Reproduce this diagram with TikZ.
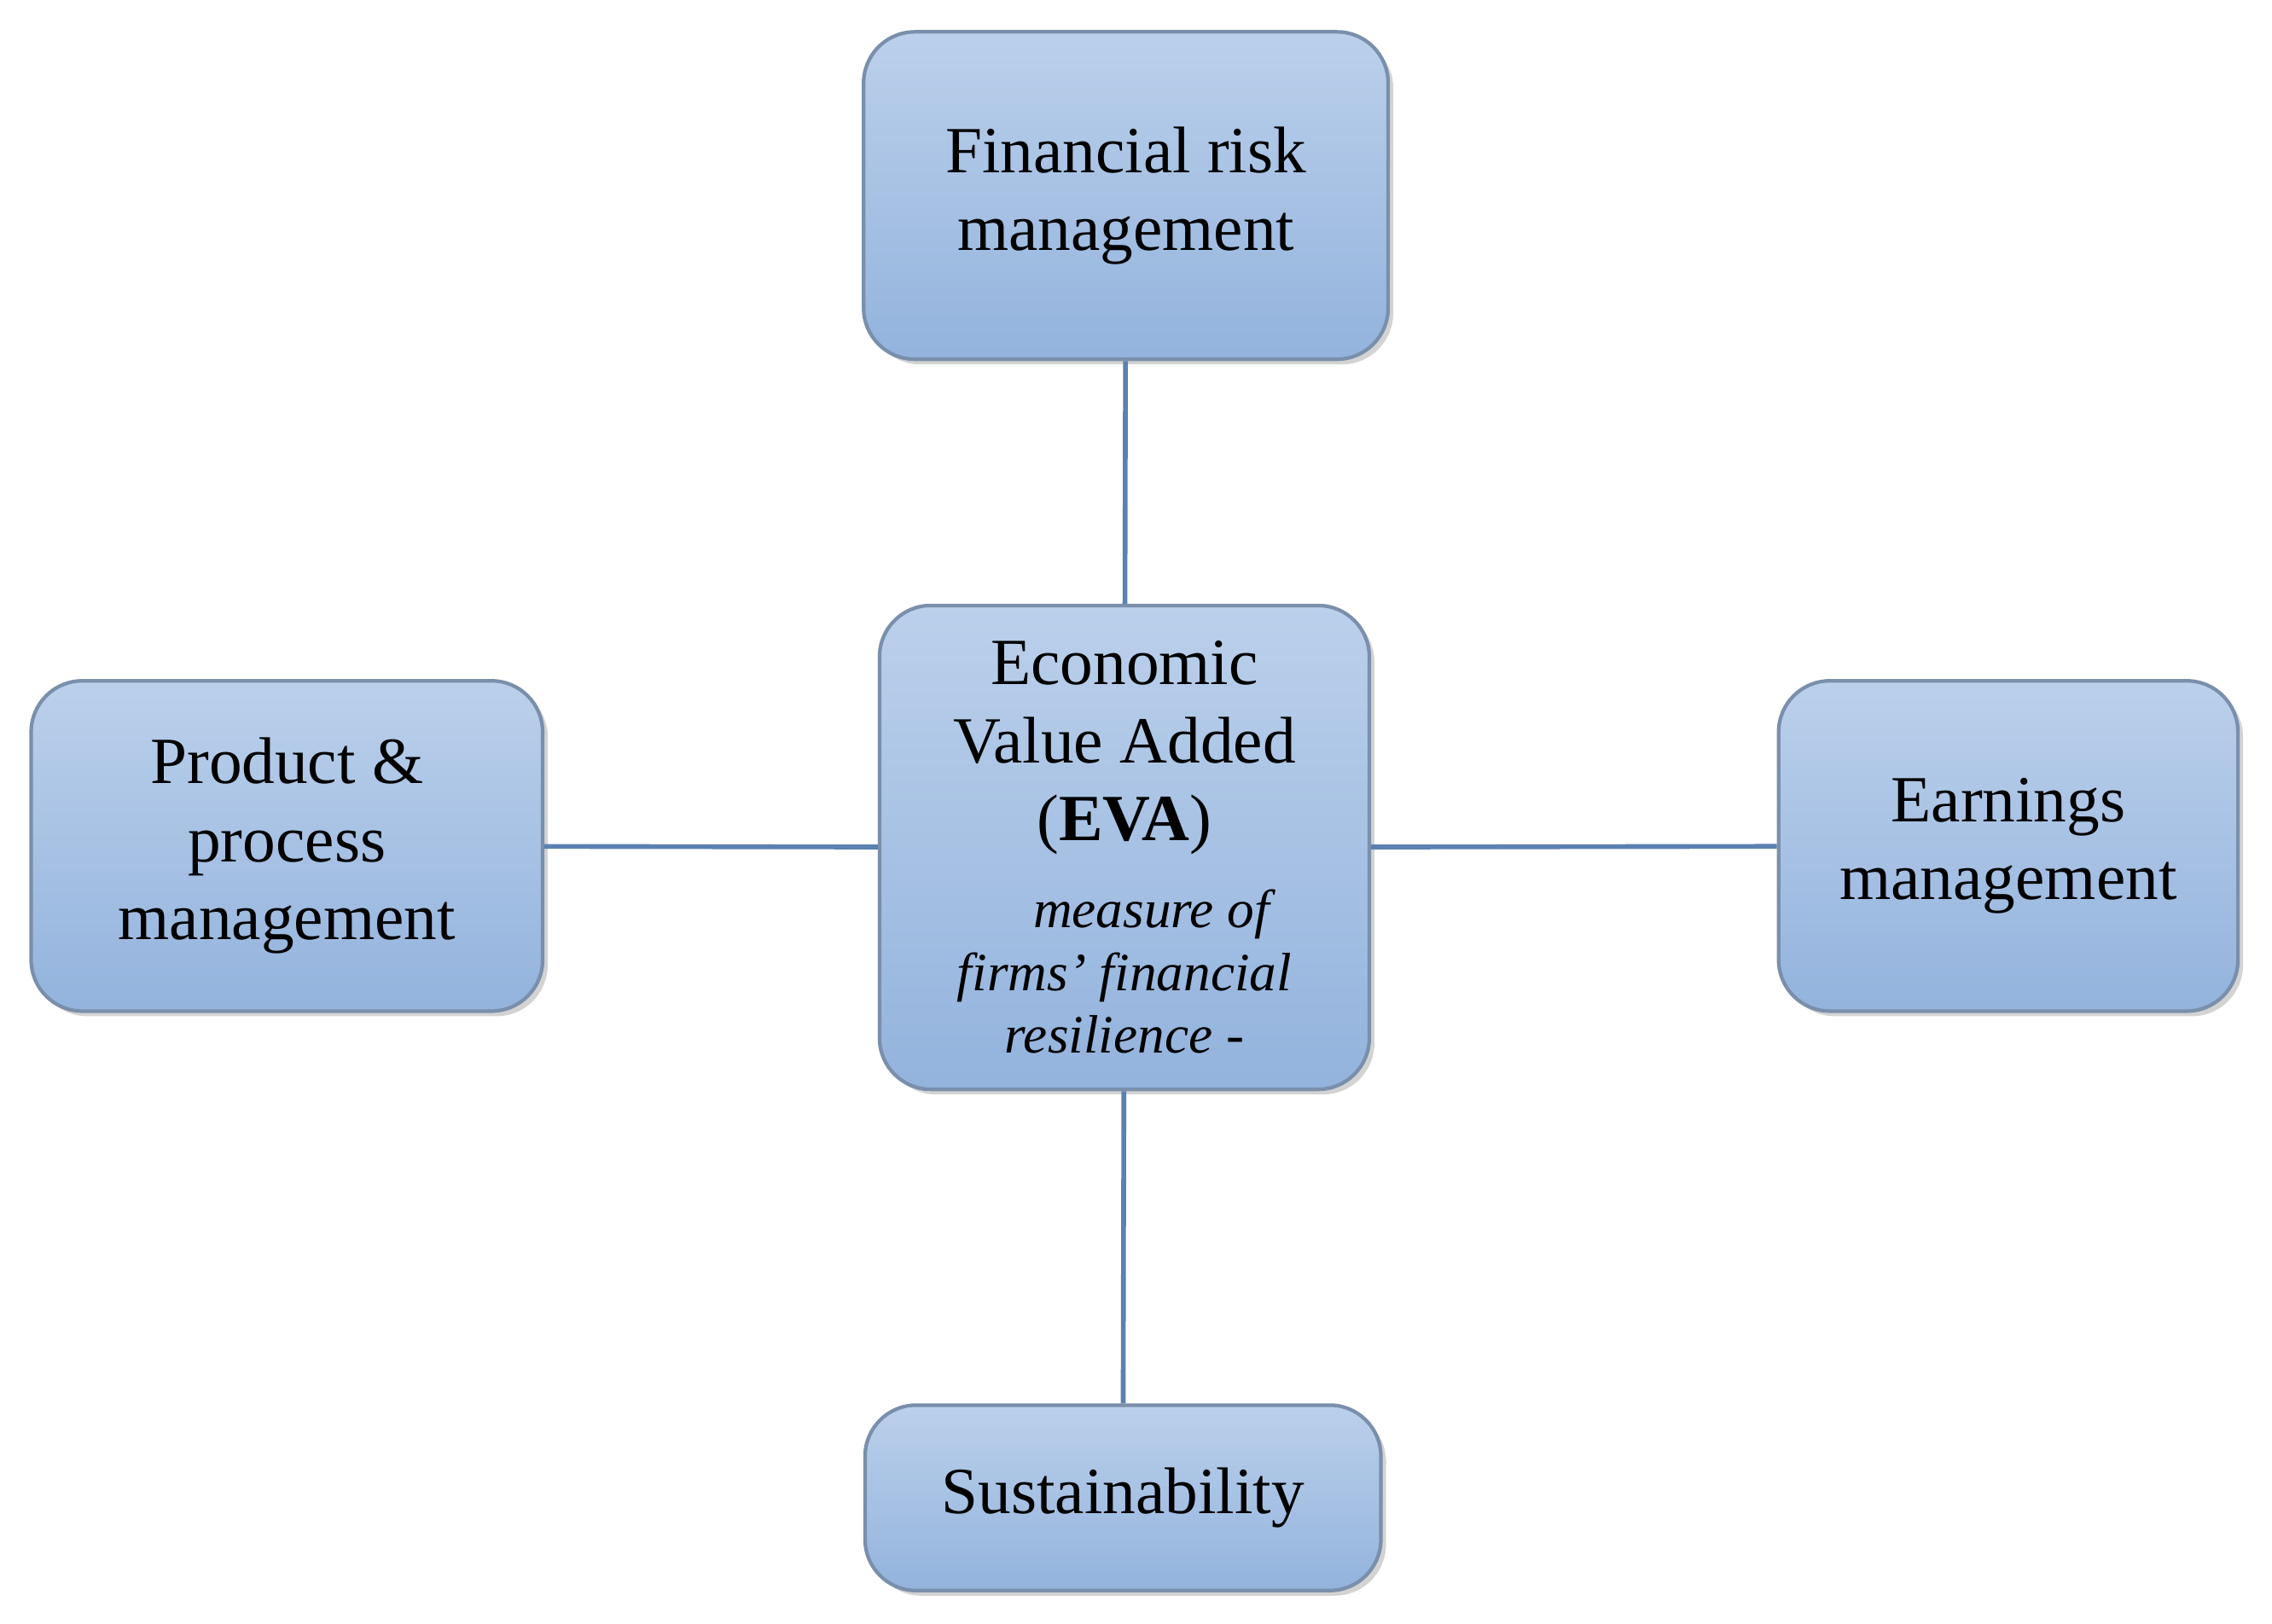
\documentclass[tikz,border=0pt]{standalone}
\usepackage{fontspec}
\setmainfont{Liberation Serif}
\usetikzlibrary{shadows}
\definecolor{topc}{HTML}{BBD0EB}
\definecolor{botc}{HTML}{93B3DD}
\definecolor{edgec}{HTML}{7A8FAB}
\definecolor{linkc}{HTML}{5B80B2}
\begin{document}
\begin{tikzpicture}[x=0.01698cm,y=-0.01698cm,
  box/.style={draw=edgec, line width=1.2pt, rounded corners=0.6cm,
    top color=topc, bottom color=botc,
    drop shadow={shadow xshift=0.06cm,shadow yshift=-0.06cm,opacity=0.35},
    align=center, font=\fontsize{22}{26}\selectfont, inner sep=0pt},
  link/.style={draw=linkc, line width=1.6pt}]
\useasboundingbox (0,0) rectangle (1568,1121);
\node[box, minimum width=362*0.01698cm, minimum height=226*0.01698cm] (top) at (777,135) {Financial risk\\management};
\node[box, minimum width=338*0.01698cm, minimum height=334*0.01698cm] (ctr) at (776,585) {Economic\\Value Added\\(\textbf{EVA})\\[3pt]\itshape\fontsize{18}{20}\selectfont\hspace*{1em}measure of\\[-5pt]\itshape\fontsize{18}{20}\selectfont firms' financial\\[-5pt]\itshape\fontsize{18}{20}\selectfont resilience -};
\node[box, minimum width=353*0.01698cm, minimum height=228*0.01698cm] (l) at (198,584) {Product \&\\process\\management};
\node[box, minimum width=317*0.01698cm, minimum height=228*0.01698cm] (r) at (1386,584) {Earnings\\management};
\node[box, minimum width=356*0.01698cm, minimum height=128*0.01698cm] (b) at (775,1034) {Sustainability};
\draw[link] (top) -- (ctr);
\draw[link] (ctr) -- (b);
\draw[link] (l) -- (ctr);
\draw[link] (ctr) -- (r);
\end{tikzpicture}
\end{document}
